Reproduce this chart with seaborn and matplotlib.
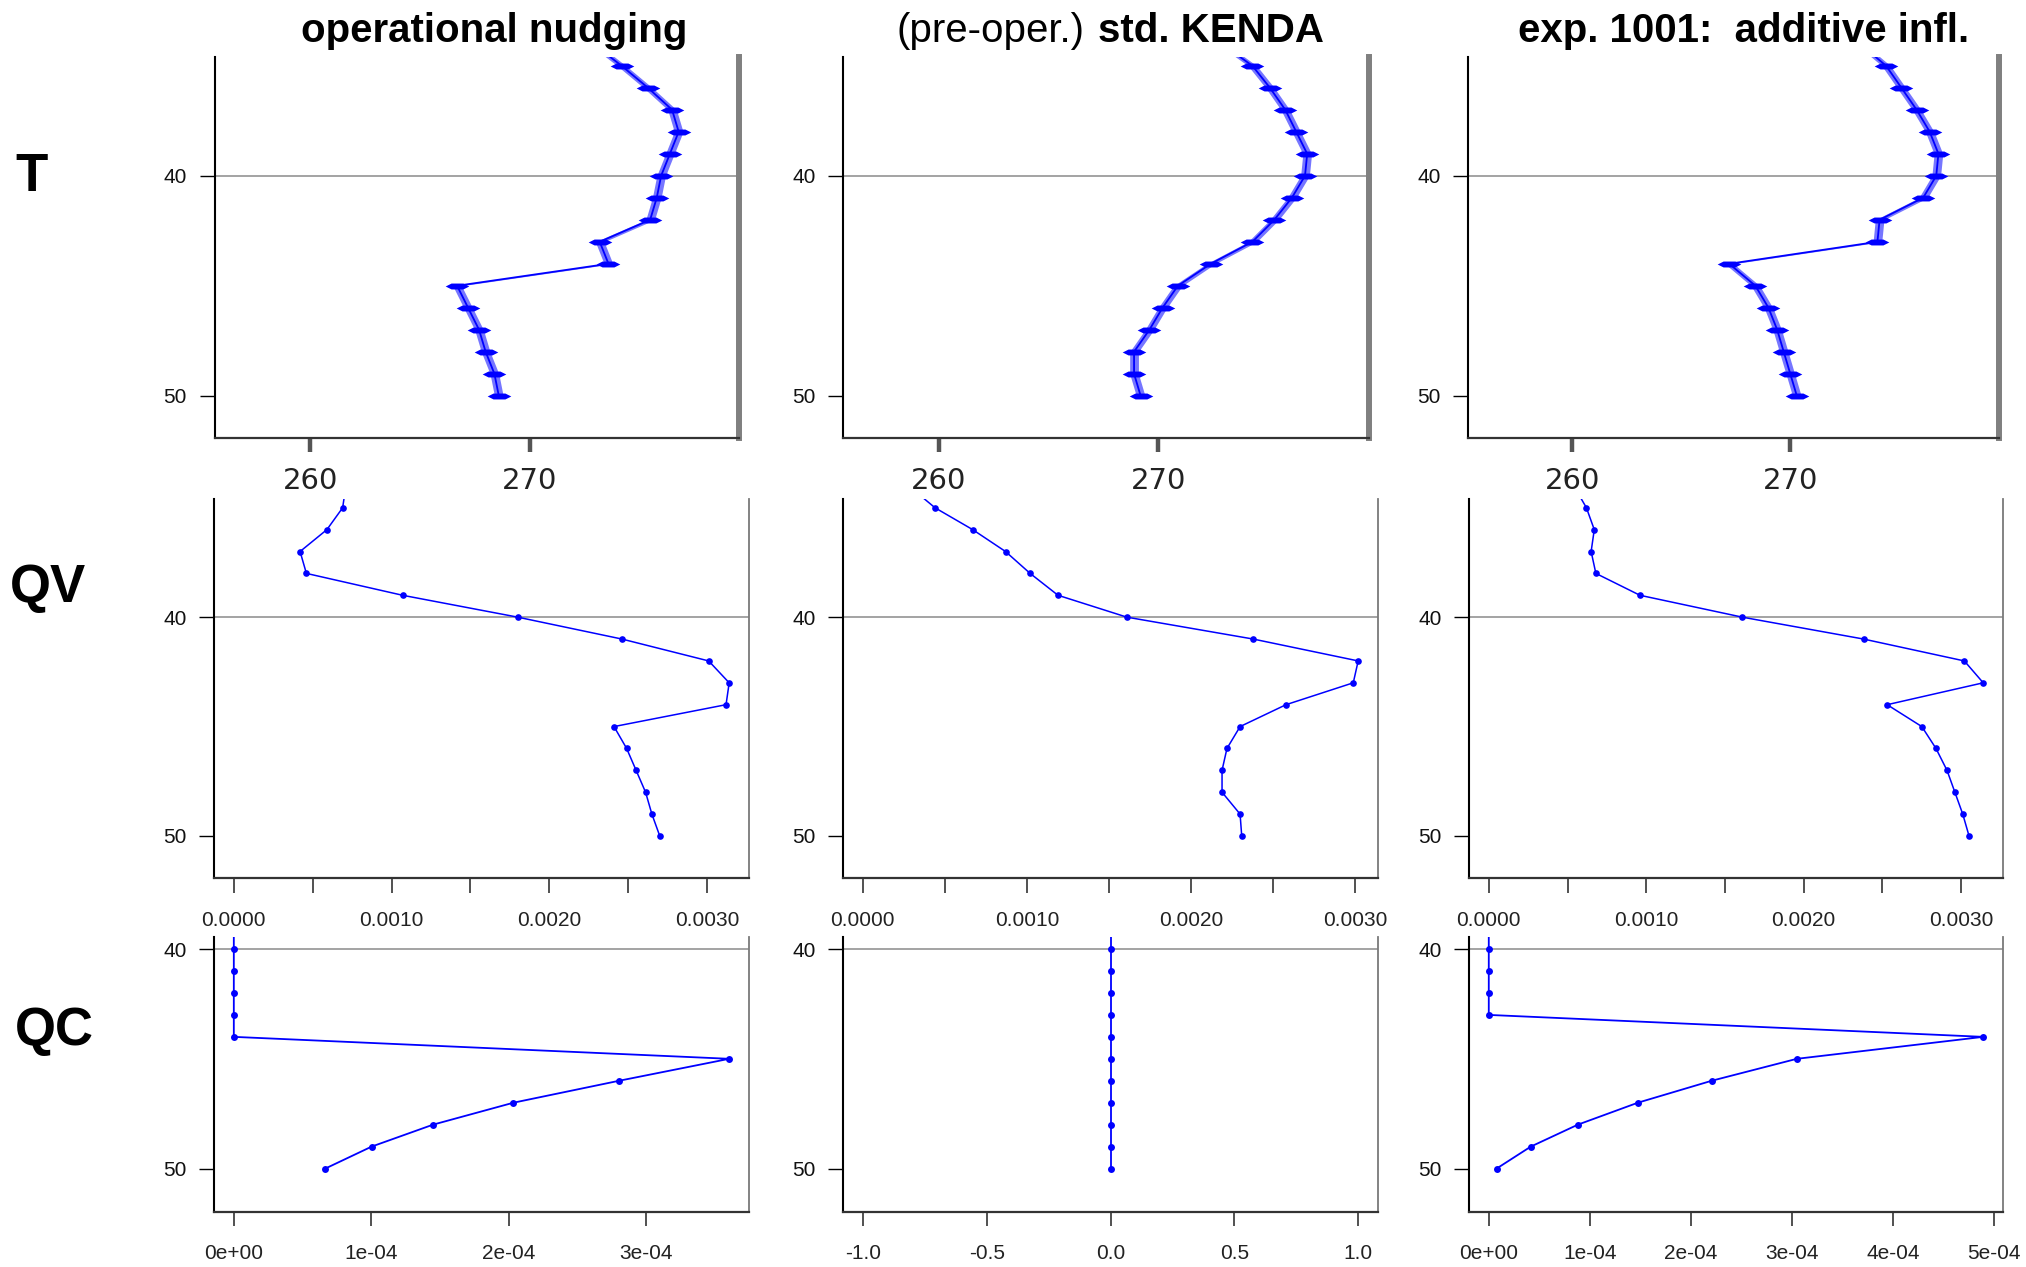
import numpy as np
import matplotlib
matplotlib.use("Agg")
import matplotlib.pyplot as plt
import seaborn as sns

sns.set_theme(style="white")
plt.rcParams['font.family'] = ['Liberation Sans', 'DejaVu Sans']
plt.rcParams['text.color'] = 'black'

# model levels (y axis, inverted) - top level only partly visible
levels_tq = np.arange(34, 51)
levels_qc = np.arange(39, 51)

# temperature profiles [K]
t_nudging = [272.9, 274.2, 275.4, 276.5, 276.8, 276.4, 276.0, 275.8, 275.5,
             273.2, 273.6, 266.7, 267.2, 267.7, 268.0, 268.4, 268.6]
t_kenda = [272.9, 274.3, 275.1, 275.8, 276.3, 276.8, 276.7, 276.1, 275.3,
           274.3, 272.4, 270.9, 270.2, 269.6, 268.9, 268.9, 269.2]
t_addinfl = [273.2, 274.4, 275.1, 275.8, 276.4, 276.8, 276.7, 276.1, 274.1,
             274.0, 267.2, 268.4, 269.0, 269.4, 269.7, 270.0, 270.3]

# specific humidity profiles [kg/kg]
qv_nudging = [0.00071, 0.00069, 0.00059, 0.00042, 0.00046, 0.00107, 0.00180,
              0.00246, 0.00301, 0.00314, 0.00312, 0.00241, 0.00249, 0.00255,
              0.00261, 0.00265, 0.00270]
qv_kenda = [0.00028, 0.00044, 0.00067, 0.00087, 0.00102, 0.00119, 0.00161,
            0.00238, 0.00302, 0.00299, 0.00258, 0.00230, 0.00222, 0.00219,
            0.00219, 0.00230, 0.00231]
qv_addinfl = [0.00054, 0.00062, 0.00067, 0.00065, 0.00068, 0.00096, 0.00161,
              0.00238, 0.00302, 0.00314, 0.00253, 0.00275, 0.00284, 0.00291,
              0.00296, 0.00301, 0.00305]

# cloud water profiles [kg/kg]
qc_nudging = [0, 0, 0, 0, 0, 0, 3.605e-4, 2.804e-4, 2.035e-4, 1.450e-4,
              1.003e-4, 0.666e-4]
qc_kenda = [0, 0, 0, 0, 0, 0, 0, 0, 0, 0, 0, 0]
qc_addinfl = [0, 0, 0, 0, 0, 4.895e-4, 3.050e-4, 2.207e-4, 1.476e-4,
              0.882e-4, 0.416e-4, 0.078e-4]

qv_ticks = [0, 0.0005, 0.0010, 0.0015, 0.0020, 0.0025, 0.0030]
qv_ticklabels = ['0.0000', '', '0.0010', '', '0.0020', '', '0.0030']
qc_ticks = [[0, 1e-4, 2e-4, 3e-4], [-1.0, -0.5, 0.0, 0.5, 1.0],
            [0, 1e-4, 2e-4, 3e-4, 4e-4, 5e-4]]
qc_ticklabels = [['0e+00', '1e-04', '2e-04', '3e-04'],
                 ['-1.0', '-0.5', '0.0', '0.5', '1.0'],
                 ['0e+00', '1e-04', '2e-04', '3e-04', '4e-04', '5e-04']]

W, H = 2026, 1267
fig = plt.figure(figsize=(W / 100, H / 100), dpi=100, facecolor='white')


def add_ax(left, right, top, bottom):
    return fig.add_axes([left / W, 1 - bottom / H, (right - left) / W, (bottom - top) / H])


def style_ax(ax, right_lw=1.3, right_col='#7a7a7a'):
    ax.set_facecolor('white')
    ax.spines['top'].set_visible(False)
    ax.spines['left'].set_color('black')
    ax.spines['left'].set_linewidth(1.5)
    ax.spines['bottom'].set_color('#333333')
    ax.spines['bottom'].set_linewidth(1.6)
    ax.spines['right'].set_color(right_col)
    ax.spines['right'].set_linewidth(right_lw)
    ax.axhline(40, color='#8a8a8a', lw=1.1, zorder=0)
    ax.tick_params(axis='y', left=True, length=10.8, width=1.0, color='black',
                   labelsize=15, pad=9, labelcolor='#111111')
    ax.set_xlabel('')
    ax.set_ylabel('')


flat_diamond = [(-1, 0), (-0.5, 0.25), (0.5, 0.25), (1, 0), (0.5, -0.25), (-0.5, -0.25)]
t_cols = [(214.5, 739), (843, 1369), (1468, 1999)]
t_xlims = [(255.64, 279.55), (255.62, 279.62), (255.21, 279.58)]
q_cols = [(214, 749), (843, 1378), (1469, 2003)]

# ---- T row ----
for (l, r), xl, t in zip(t_cols, t_xlims, [t_nudging, t_kenda, t_addinfl]):
    ax = add_ax(l, r, 57, 438)
    t = np.array(t)
    ax.fill_betweenx(levels_tq, t - 0.2, t + 0.2, color='#3c3cff', alpha=0.7, lw=0)
    sns.lineplot(x=t, y=levels_tq, orient='y', sort=False, estimator=None,
                 color='#0000ff', lw=1.3, marker=flat_diamond, markersize=17,
                 markeredgewidth=0, ax=ax)
    style_ax(ax, right_lw=4.3, right_col='#808080')
    ax.set_xlim(*xl)
    ax.set_ylim(51.92, 34.6)
    ax.set_yticks([40, 50])
    ax.set_xticks([260, 270])
    ax.tick_params(axis='x', bottom=True, length=10, width=3.2, color='#555555',
                   labelsize=21, pad=11, labelcolor='#222222')
    for lab in ax.get_xticklabels():
        lab.set_fontfamily('DejaVu Sans')

# ---- QV row ----
for (l, r), q in zip(q_cols, [qv_nudging, qv_kenda, qv_addinfl]):
    ax = add_ax(l, r, 499, 878)
    sns.lineplot(x=q, y=levels_tq, orient='y', sort=False, estimator=None,
                 color='#0000ff', lw=1.1, marker='o', markersize=4.8,
                 markeredgewidth=0, ax=ax)
    style_ax(ax)
    qmax = max(q)
    ax.set_xlim(-0.04 * qmax, 1.04 * qmax)
    ax.set_ylim(51.92, 34.6)
    ax.set_yticks([40, 50])
    ax.set_xticks(qv_ticks)
    ax.set_xticklabels(qv_ticklabels)
    ax.tick_params(axis='x', bottom=True, length=10.5, width=1.2, color='#333333',
                   labelsize=15, pad=13, labelcolor='#222222')

# ---- QC row ----
for i, ((l, r), q) in enumerate(zip(q_cols, [qc_nudging, qc_kenda, qc_addinfl])):
    ax = add_ax(l, r, 937, 1212)
    sns.lineplot(x=q, y=levels_qc, orient='y', sort=False, estimator=None,
                 color='#0000ff', lw=1.3, marker='o', markersize=5,
                 markeredgewidth=0, ax=ax)
    style_ax(ax)
    qmax = max(q)
    if qmax > 0:
        ax.set_xlim(-0.04 * qmax, 1.04 * qmax)
    else:
        ax.set_xlim(-1.08, 1.08)
    ax.set_ylim(51.98, 39.45)
    ax.set_yticks([40, 50])
    ax.set_xticks(qc_ticks[i])
    ax.set_xticklabels(qc_ticklabels[i])
    ax.tick_params(axis='x', bottom=True, length=10, width=1.2, color='#333333',
                   labelsize=15, pad=13, labelcolor='#222222')

# ---- column titles ----
ty = 1 - 31 / H
fig.text(494 / W, ty, 'operational nudging', ha='center', va='center',
         fontsize=29, fontweight='bold', color='black')
fig.text(1084 / W, ty, '(pre-oper.)', ha='right', va='center', fontsize=29, color='black')
fig.text(1098 / W, ty, 'std. KENDA', ha='left', va='center', fontsize=29,
         fontweight='bold', color='black')
fig.text(1744 / W, ty, 'exp. 1001:  additive infl.', ha='center', va='center',
         fontsize=29, fontweight='bold', color='black')

# ---- row labels ----
fig.text(15 / W, 1 - 177 / H, 'T', ha='left', va='center', fontsize=38,
         fontweight='bold', color='black')
fig.text(10 / W, 1 - 588 / H, 'QV', ha='left', va='center', fontsize=38,
         fontweight='bold', color='black')
fig.text(15 / W, 1 - 1031 / H, 'QC', ha='left', va='center', fontsize=38,
         fontweight='bold', color='black')

plt.savefig('out.png', dpi=100, facecolor='white')
